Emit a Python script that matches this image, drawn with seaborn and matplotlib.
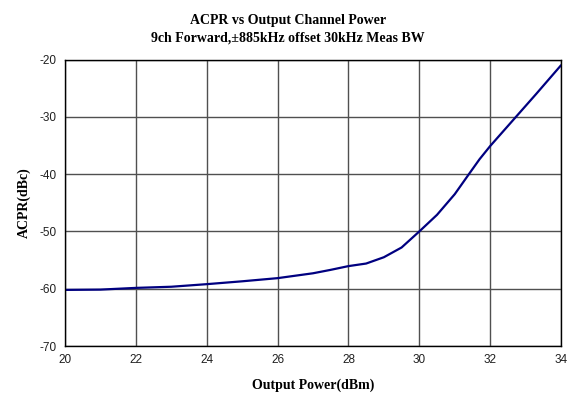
import matplotlib
matplotlib.use("Agg")
import matplotlib.pyplot as plt
import seaborn as sns
import pandas as pd

# values
power_dbm = [20, 21, 22, 23, 24, 25, 26, 27, 27.5, 28, 28.5, 29, 29.5, 30,
             30.5, 31, 31.4, 31.7, 32, 32.4, 32.8, 33.3, 34]
acpr_dbc = [-60.2, -60.15, -59.85, -59.65, -59.2, -58.7, -58.15, -57.3, -56.7,
            -56.05, -55.6, -54.5, -52.8, -50.0, -47.1, -43.5, -40.0, -37.4,
            -35.1, -32.3, -29.5, -26.0, -21.0]

x_ticks = [20, 22, 24, 26, 28, 30, 32, 34]
y_ticks = [-70, -60, -50, -40, -30, -20]

df = pd.DataFrame({"power": power_dbm, "acpr": acpr_dbc})

sns.set_style("white")
plt.rcParams["font.family"] = ["Liberation Sans", "DejaVu Sans"]
plt.rcParams["axes.unicode_minus"] = False
plt.rcParams["text.color"] = "black"
plt.rcParams["axes.labelcolor"] = "black"

fig = plt.figure(figsize=(5.69, 4.01), dpi=100)
ax = fig.add_axes([0.1142, 0.137, 0.8718, 0.7146])

sns.lineplot(data=df, x="power", y="acpr", ax=ax, color="#000080", linewidth=1.6)

ax.set_xlim(20, 34)
ax.set_ylim(-70, -20)
ax.set_xticks(x_ticks)
ax.set_yticks(y_ticks)
ax.grid(True, color="#505050", linewidth=1.0)
ax.set_axisbelow(True)
ax.tick_params(length=0, labelsize=8.5, colors="#202020", pad=6)
for s in ax.spines.values():
    s.set_color("black")
    s.set_linewidth(1.0)

serif = ["Liberation Serif", "DejaVu Serif"]
ax.set_xlabel("Output Power(dBm)", family=serif, fontweight="bold", fontsize=10, labelpad=9)
ax.set_ylabel("ACPR(dBc)", family=serif, fontweight="bold", fontsize=10, labelpad=6)

fig.text(0.506, 0.948, "ACPR vs Output Channel Power", family=serif,
         fontweight="bold", fontsize=10, ha="center", va="center")
fig.text(0.506, 0.905, "9ch Forward,\u00b1885kHz offset 30kHz Meas BW", family=serif,
         fontweight="bold", fontsize=10, ha="center", va="center")

fig.savefig("out.png", dpi=100, facecolor="white")
